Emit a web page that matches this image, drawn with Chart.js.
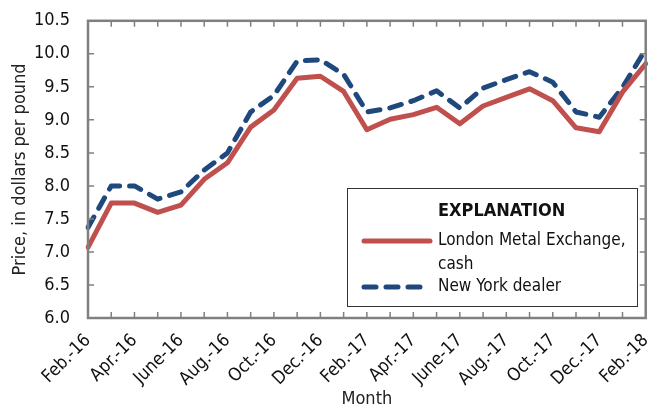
<!DOCTYPE html>
<html>
<head>
<meta charset="utf-8">
<script src="https://cdn.jsdelivr.net/npm/chart.js@4/dist/chart.umd.min.js"></script>
<style>
  body { margin: 0; background: #fff; }
  #wrap { width: 665px; height: 410px; position: relative; }
</style>
</head>
<body>
<div id="wrap"><canvas id="priceChart"></canvas></div>
<script>
var FONT = "'Liberation Sans Narrow', 'DejaVu Sans Condensed', 'Arial Narrow', sans-serif";

var months = ["Feb.-16", "Mar.-16", "Apr.-16", "May-16", "June-16", "July-16", "Aug.-16", "Sep.-16",
    "Oct.-16", "Nov.-16", "Dec.-16", "Jan.-17", "Feb.-17", "Mar.-17", "Apr.-17", "May-17",
    "June-17", "July-17", "Aug.-17", "Sep.-17", "Oct.-17", "Nov.-17", "Dec.-17", "Jan.-18", "Feb.-18"];

var lmeCash = [7.07, 7.74, 7.74, 7.60, 7.71, 8.10, 8.35, 8.89, 9.15, 9.63, 9.66, 9.43, 8.85,
    9.01, 9.08, 9.19, 8.94, 9.21, 9.34, 9.47, 9.29, 8.88, 8.82, 9.42, 9.85];

var nyDealer = [7.37, 8.00, 8.00, 7.80, 7.91, 8.24, 8.50, 9.12, 9.37, 9.89, 9.91, 9.69, 9.12,
    9.18, 9.29, 9.44, 9.18, 9.48, 9.61, 9.73, 9.57, 9.12, 9.04, 9.49, 10.07];

var legendTitle = "EXPLANATION";
var lmeLabel = ["London Metal Exchange,", "cash"];
var nyLabel = "New York dealer";

var red = "#c0504d";
var blue = "#1f497d";
var axisGray = "#808080";

// frame round the plot with inward tick marks on all four sides
var framePlugin = {
    id: "frame",
    afterDatasetsDraw: function (chart) {
        var ctx = chart.ctx, a = chart.chartArea;
        var xs = chart.scales.x, ys = chart.scales.y;
        var len = 6;
        ctx.save();
        ctx.strokeStyle = axisGray;
        ctx.lineWidth = 1.5;
        ctx.beginPath();
        for (var i = 1; i < months.length - 1; i++) {
            var px = xs.getPixelForValue(i);
            ctx.moveTo(px, a.top); ctx.lineTo(px, a.top + len);
            ctx.moveTo(px, a.bottom); ctx.lineTo(px, a.bottom - len);
        }
        ys.ticks.forEach(function (t) {
            if (t.value <= ys.min || t.value >= ys.max) return;
            var py = ys.getPixelForValue(t.value);
            ctx.moveTo(a.left, py); ctx.lineTo(a.left + len, py);
            ctx.moveTo(a.right, py); ctx.lineTo(a.right - len, py);
        });
        ctx.stroke();
        ctx.lineWidth = 2.5;
        ctx.strokeRect(a.left, a.top, a.right - a.left, a.bottom - a.top);
        ctx.restore();
    }
};

// boxed "EXPLANATION" legend
var legendPlugin = {
    id: "explanation",
    afterDraw: function (chart) {
        var ctx = chart.ctx;
        var bx = 347, by = 188, bw = 290, bh = 118;
        ctx.save();
        ctx.fillStyle = "#fff";
        ctx.fillRect(bx, by, bw, bh);
        ctx.strokeStyle = "#333";
        ctx.lineWidth = 1;
        ctx.strokeRect(bx + 0.5, by + 0.5, bw, bh);

        ctx.fillStyle = "#111";
        ctx.textBaseline = "middle";
        ctx.font = "bold 18px " + FONT;
        ctx.fillText(legendTitle, 438, 211);
        ctx.font = "17px " + FONT;
        ctx.fillText(lmeLabel[0], 438, 241);
        ctx.fillText(lmeLabel[1], 438, 265);
        ctx.fillText(nyLabel, 438, 287);

        ctx.lineCap = "round";
        ctx.lineWidth = 5;
        ctx.strokeStyle = red;
        ctx.beginPath(); ctx.moveTo(364, 241); ctx.lineTo(430, 241); ctx.stroke();
        ctx.strokeStyle = blue;
        ctx.setLineDash([12, 10]);
        ctx.beginPath(); ctx.moveTo(364, 287); ctx.lineTo(424, 287); ctx.stroke();
        ctx.restore();
    }
};

new Chart("priceChart", {
    type: "line",
    data: {
        labels: months,
        datasets: [{
            label: "London Metal Exchange, cash",
            data: lmeCash,
            borderColor: red,
            borderWidth: 5,
            pointRadius: 0,
            borderJoinStyle: "round",
            borderCapStyle: "round",
            tension: 0
        }, {
            label: "New York dealer",
            data: nyDealer,
            borderColor: blue,
            borderWidth: 5,
            borderDash: [12, 10],
            pointRadius: 0,
            borderJoinStyle: "round",
            borderCapStyle: "round",
            tension: 0
        }]
    },
    options: {
        responsive: true,
        maintainAspectRatio: false,
        animation: false,
        layout: { padding: { left: 0, right: 15, top: 18, bottom: 0 } },
        plugins: {
            legend: { display: false },
            tooltip: { enabled: false }
        },
        scales: {
            x: {
                offset: false,
                grid: { display: false },
                border: { display: false },
                ticks: {
                    autoSkip: false,
                    maxRotation: 45,
                    minRotation: 45,
                    padding: 4,
                    color: "#111",
                    font: { family: FONT, size: 18 },
                    callback: function (v, i) { return i % 2 === 0 ? months[i] : ""; }
                },
                title: {
                    display: true,
                    text: "Month",
                    color: "#222",
                    font: { family: FONT, size: 18 },
                    padding: { top: 0, bottom: 0 }
                },
                afterFit: function (s) { s.height = 92; }
            },
            y: {
                min: 6,
                max: 10.5,
                grid: { display: false },
                border: { display: false },
                ticks: {
                    stepSize: 0.5,
                    padding: 10,
                    color: "#111",
                    font: { family: FONT, size: 18 },
                    callback: function (v) { return v.toFixed(1); }
                },
                title: {
                    display: true,
                    text: "Price, in dollars per pound",
                    color: "#222",
                    font: { family: FONT, size: 18 },
                    padding: { top: 10, bottom: 2 }
                },
                afterFit: function (s) { s.width = 88; }
            }
        }
    },
    plugins: [framePlugin, legendPlugin]
});
</script>
</body>
</html>
